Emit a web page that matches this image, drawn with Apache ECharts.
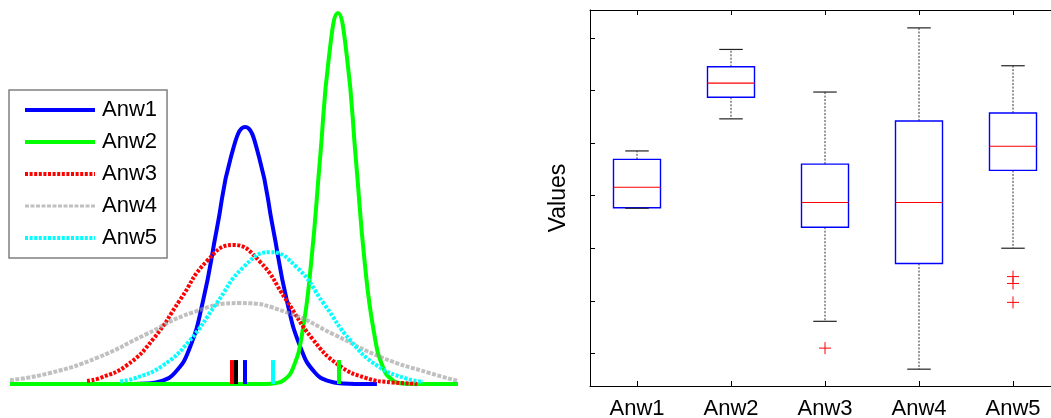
<!DOCTYPE html>
<html>
<head>
<meta charset="utf-8">
<script src="https://cdn.jsdelivr.net/npm/echarts@6/dist/echarts.min.js"></script>
<style>
  html, body { margin: 0; padding: 0; background: #fff; }
  #chart { width: 1051px; height: 418px; }
</style>
</head>
<body>
<div id="chart"></div>
<script>
// ---------- Left panel: fitted distribution curves (x in arbitrary units 0..10, y = relative density) ----------
const seriesNames = ['Anw1', 'Anw2', 'Anw3', 'Anw4', 'Anw5'];

const anw1X = [2.75, 3.06, 3.37, 3.68, 4.00, 4.31, 4.62, 4.93, 5.25, 5.56, 5.87, 6.18, 6.50, 6.81, 7.12, 7.43, 7.75, 8.19];
const anw1Y = [0.02, 0.15, 0.75, 2.97, 9.15, 21.95, 41.0, 59.66, 67.6, 59.66, 41.0, 21.95, 9.15, 2.97, 0.75, 0.15, 0.02, 0];

const anw2X = [0, 5.71, 5.91, 6.12, 6.32, 6.52, 6.72, 6.92, 7.12, 7.32, 7.52, 7.72, 7.92, 8.13, 8.33, 8.53, 8.73, 8.93, 10];
const anw2Y = [0, 0.03, 0.21, 1.08, 4.28, 13.2, 31.7, 59.2, 86.1, 97.6, 86.1, 59.2, 31.7, 13.2, 4.28, 1.08, 0.21, 0.03, 0];

const anw3X = [1.72, 2.02, 2.61, 3.20, 3.80, 4.39, 4.98, 5.57, 6.16, 6.75, 7.34, 7.94, 8.53, 9.09];
const anw3Y = [0.82, 1.61, 4.95, 11.88, 22.2, 32.3, 36.6, 32.3, 22.2, 11.88, 4.95, 1.61, 0.41, 0.09];

const anw4X = [0, 0.89, 1.95, 3.01, 4.07, 5.13, 6.19, 7.25, 8.31, 9.37, 10];
const anw4Y = [1.0, 2.88, 6.92, 12.92, 18.8, 21.3, 18.8, 12.92, 6.92, 2.88, 0.8];

const anw5X = [2.46, 2.79, 3.39, 4.00, 4.60, 5.20, 5.80, 6.41, 7.01, 7.61, 8.21, 8.82, 9.22];
const anw5Y = [0.73, 1.52, 4.70, 11.27, 21.05, 30.62, 34.7, 30.62, 21.05, 11.27, 4.70, 1.52, 0.63];

// mean markers (short vertical sticks on the baseline)
const meanX = [5.24, 7.34, 4.95, 5.05, 5.86];
const meanStickHeight = 6.3;

// ---------- Right panel: box plot ----------
const categories = ['Anw1', 'Anw2', 'Anw3', 'Anw4', 'Anw5'];
const whiskerLow = [3.76, 5.46, 1.61, 0.70, 3.00];
const quart1 = [3.77, 5.87, 3.40, 2.71, 4.48];
const median = [4.16, 6.14, 3.87, 3.87, 4.94];
const quart3 = [4.69, 6.45, 4.60, 5.42, 5.57];
const whiskerHigh = [4.85, 6.78, 5.97, 7.19, 6.47];
const outlierCat = ['Anw3', 'Anw5', 'Anw5', 'Anw5'];
const outlierVal = [1.10, 2.46, 2.33, 1.97];
const yTickValues = [1, 2, 3, 4, 5, 6, 7];

const FONT = '"Liberation Sans", Arial, Helvetica, sans-serif';

const curveX = [anw1X, anw2X, anw3X, anw4X, anw5X];
const curveY = [anw1Y, anw2Y, anw3Y, anw4Y, anw5Y];
const curveColor = ['#0000ff', '#00ff00', '#ff0000', 'rgba(150,150,150,0.6)', '#00ffff'];
const curveType = ['solid', 'solid', [3, 1.6], [4, 1.5], [3, 1.6]];
const curveWidth = [4, 4, 4, 4, 4];
const meanColor = ['#0000ff', '#00ff00', '#ff0000', '#000000', '#00ffff'];

const curveSeries = seriesNames.map((name, k) => ({
  name: name,
  type: 'line',
  xAxisIndex: 0,
  yAxisIndex: 0,
  smooth: 0.5,
  symbol: 'none',
  silent: true,
  animation: false,
  data: curveX[k].map((x, j) => [x, curveY[k][j]]),
  lineStyle: { color: curveColor[k], width: curveWidth[k], type: curveType[k], cap: 'butt' },
  itemStyle: { color: curveColor[k] },
  markLine: {
    silent: true,
    symbol: 'none',
    animation: false,
    label: { show: false },
    lineStyle: { color: meanColor[k], width: 4, type: 'solid' },
    data: [[{ coord: [meanX[k], 0] }, { coord: [meanX[k], meanStickHeight] }]]
  }
}));

const boxData = categories.map((c, i) => [i, whiskerLow[i], quart1[i], median[i], quart3[i], whiskerHigh[i]]);
const outlierData = outlierCat.map((c, i) => [categories.indexOf(c), outlierVal[i]]);

function renderBox(params, api) {
  const i = api.value(0);
  const bw = api.size([1, 0])[0];
  const pLow = api.coord([i, api.value(1)]);
  const pQ1 = api.coord([i, api.value(2)]);
  const pMed = api.coord([i, api.value(3)]);
  const pQ3 = api.coord([i, api.value(4)]);
  const pHigh = api.coord([i, api.value(5)]);
  const cx = pMed[0];
  const hb = bw * 0.25, hc = bw * 0.125;
  const wh = { stroke: '#333', lineWidth: 1, lineDash: [2, 1.5] };
  const cap = { stroke: '#222', lineWidth: 1.2 };
  return {
    type: 'group',
    children: [
      { type: 'line', shape: { x1: cx, y1: pQ3[1], x2: cx, y2: pHigh[1] }, style: wh },
      { type: 'line', shape: { x1: cx, y1: pQ1[1], x2: cx, y2: pLow[1] }, style: wh },
      { type: 'rect', shape: { x: cx - hb, y: pQ3[1], width: 2 * hb, height: pQ1[1] - pQ3[1] },
        style: { fill: 'none', stroke: '#0000ff', lineWidth: 1.4 } },
      { type: 'line', shape: { x1: cx - hc, y1: pHigh[1], x2: cx + hc, y2: pHigh[1] }, style: cap },
      { type: 'line', shape: { x1: cx - hc, y1: pLow[1], x2: cx + hc, y2: pLow[1] }, style: cap },
      { type: 'line', shape: { x1: cx - hb, y1: pMed[1], x2: cx + hb, y2: pMed[1] },
        style: { stroke: '#ff0000', lineWidth: 1.1 } }
    ]
  };
}

function renderPlus(params, api) {
  const p = api.coord([api.value(0), api.value(1)]);
  const s = 6;
  const st = { stroke: '#ff0000', lineWidth: 1 };
  return {
    type: 'group',
    children: [
      { type: 'line', shape: { x1: p[0] - s, y1: p[1], x2: p[0] + s, y2: p[1] }, style: st },
      { type: 'line', shape: { x1: p[0], y1: p[1] - s, x2: p[0], y2: p[1] + s }, style: st }
    ]
  };
}

const legendData = seriesNames.map((n, k) => ({
  name: n,
  itemStyle: { opacity: 0 },
  lineStyle: { width: k === 3 ? 3 : 4 }
}));

const chart = echarts.init(document.getElementById('chart'), null, { renderer: 'canvas' });
chart.setOption({
  animation: false,
  backgroundColor: '#ffffff',
  textStyle: { fontFamily: FONT },
  legend: {
    data: legendData,
    orient: 'vertical',
    left: 9,
    top: 90,
    padding: [9, 10, 9, 14],
    itemWidth: 70,
    itemHeight: 14,
    itemGap: 10,
    backgroundColor: '#ffffff',
    borderColor: '#808080',
    borderWidth: 1.5,
    selectedMode: false,
    itemStyle: { opacity: 0 },
    textStyle: { fontFamily: FONT, fontSize: 22, lineHeight: 22, color: '#000', padding: [0, 0, 0, 2] }
  },
  grid: [
    { left: 10, top: 4, width: 448, height: 380, containLabel: false, outerBoundsMode: 'none' },
    { left: 590, top: 10, width: 470, bottom: 32, containLabel: false, outerBoundsMode: 'none' }
  ],
  xAxis: [
    { gridIndex: 0, type: 'value', min: 0, max: 10, show: false },
    {
      gridIndex: 1, type: 'category', data: categories, position: 'bottom',
      axisLine: { show: true, lineStyle: { color: '#000', width: 1 } },
      axisTick: { show: true, inside: true, alignWithLabel: true, length: 5, lineStyle: { color: '#000' } },
      axisLabel: { show: true, fontSize: 22, color: '#000', margin: 12, fontFamily: FONT },
      splitLine: { show: false }
    },
    {
      gridIndex: 1, type: 'category', data: categories, position: 'top',
      axisLine: { show: true, lineStyle: { color: '#000', width: 1 } },
      axisTick: { show: true, inside: true, alignWithLabel: true, length: 5, lineStyle: { color: '#000' } },
      axisLabel: { show: false },
      splitLine: { show: false }
    }
  ],
  yAxis: [
    { gridIndex: 0, type: 'value', min: 0, max: 100, show: false },
    {
      gridIndex: 1, type: 'value', min: 0.38, max: 7.53, position: 'left',
      name: 'Values', nameLocation: 'middle', nameGap: 20,
      nameTextStyle: { fontSize: 23, color: '#000', fontFamily: FONT },
      axisLine: { show: true, lineStyle: { color: '#000', width: 1 } },
      axisTick: { show: true, inside: true, length: 5, customValues: yTickValues, lineStyle: { color: '#000' } },
      axisLabel: { show: false },
      splitLine: { show: false }
    }
  ],
  series: curveSeries.concat([
    {
      type: 'custom',
      name: 'box',
      xAxisIndex: 1,
      yAxisIndex: 1,
      silent: true,
      renderItem: renderBox,
      encode: { x: 0, y: [1, 2, 3, 4, 5] },
      data: boxData,
      z: 3
    },
    {
      type: 'custom',
      name: 'outliers',
      xAxisIndex: 1,
      yAxisIndex: 1,
      silent: true,
      renderItem: renderPlus,
      encode: { x: 0, y: 1 },
      data: outlierData,
      z: 4
    }
  ])
});
</script>
</body>
</html>
